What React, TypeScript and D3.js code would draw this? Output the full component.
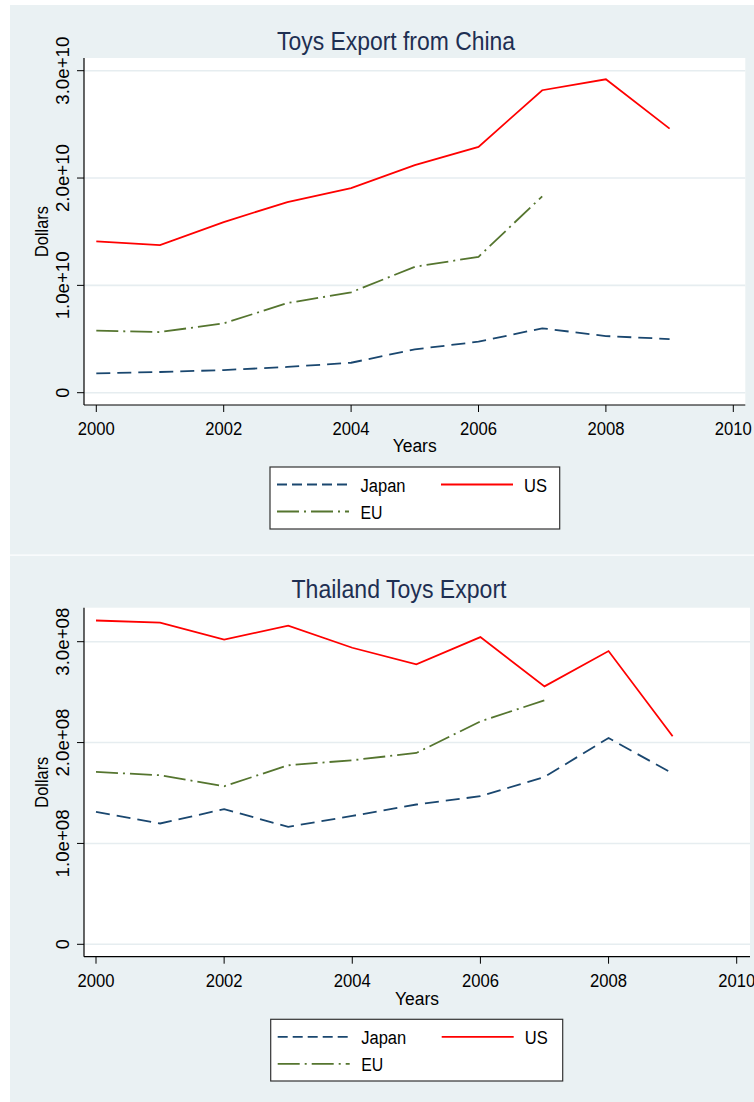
import React from "react";
import * as d3 from "d3";

const years = [2000, 2001, 2002, 2003, 2004, 2005, 2006, 2007, 2008, 2009];
const euYears = [2000, 2001, 2002, 2003, 2004, 2005, 2006, 2007];

const chinaJapan = [0.18e10, 0.193e10, 0.211e10, 0.24e10, 0.279e10, 0.404e10, 0.475e10, 0.6e10, 0.528e10, 0.5e10];
const chinaUS = [1.41e10, 1.375e10, 1.59e10, 1.776e10, 1.906e10, 2.12e10, 2.29e10, 2.818e10, 2.92e10, 2.46e10];
const chinaEU = [0.578e10, 0.565e10, 0.646e10, 0.835e10, 0.935e10, 1.173e10, 1.266e10, 1.83e10];

const thaiJapan = [1.313e8, 1.198e8, 1.34e8, 1.164e8, 1.273e8, 1.386e8, 1.468e8, 1.659e8, 2.045e8, 1.693e8];
const thaiUS = [3.21e8, 3.19e8, 3.02e8, 3.16e8, 2.94e8, 2.775e8, 3.046e8, 2.557e8, 2.907e8, 2.062e8];
const thaiEU = [1.709e8, 1.676e8, 1.567e8, 1.775e8, 1.825e8, 1.897e8, 2.21e8, 2.419e8];

const xTicks = [2000, 2002, 2004, 2006, 2008, 2010];
const chinaYTicks = [0, 1e10, 2e10, 3e10];
const chinaYLabels = ["0", "1.0e+10", "2.0e+10", "3.0e+10"];
const thaiYTicks = [0, 1e8, 2e8, 3e8];
const thaiYLabels = ["0", "1.0e+08", "2.0e+08", "3.0e+08"];

const BG = "#eaf1f3";
const GRID = "#e6edf0";
const FONT = "'Liberation Sans', Arial, sans-serif";
const TITLE_COLOR = "#1e2f52";
const C_JAPAN = "#1a476f";
const C_US = "#ff0000";
const C_EU = "#55752f";
const DASH_JAPAN = "14 7";
const DASH_EU = "22 5 2 5";

type PanelProps = {
  top: number;
  height: number;
  title: string;
  titleWidth: number;
  titleY: number;
  titleX: number;
  plot: { x0: number; x1: number; y0: number; y1: number };
  xRange: [number, number];
  yRange: [number, number];
  yMax: number;
  yTicks: number[];
  yLabels: string[];
  japan: number[];
  us: number[];
  eu: number[];
  tickLabelY: number;
  xTitleY: number;
  legend: { x: number; y: number; w: number; h: number };
};

function Panel(p: PanelProps) {
  const x = d3.scaleLinear().domain([2000, 2010]).range(p.xRange);
  const y = d3.scaleLinear().domain([0, p.yMax]).range(p.yRange);
  const line = d3
    .line<[number, number]>()
    .x((d) => x(d[0]))
    .y((d) => y(d[1]));
  const pts = (xs: number[], vs: number[]) => xs.map((yr, i) => [yr, vs[i]] as [number, number]);
  const { x0, x1, y0, y1 } = p.plot;
  const yMid = (y0 + y1) / 2;
  const xMid = (x0 + x1) / 2;
  const L = p.legend;
  const row1 = L.y + 17.5;
  const row2 = L.y + 44.5;
  return (
    <g>
      <rect x={10} y={p.top} width={744} height={p.height} fill={BG} />
      <text
        x={p.titleX}
        y={p.titleY}
        fontFamily={FONT}
        fontSize={26}
        fill={TITLE_COLOR}
        textAnchor="middle"
        textLength={p.titleWidth}
        lengthAdjust="spacingAndGlyphs"
      >
        {p.title}
      </text>
      <rect x={x0} y={y0} width={x1 - x0} height={y1 - y0} fill="#ffffff" />
      {p.yTicks.map((t) => (
        <line key={"g" + t} x1={x0} x2={x1} y1={y(t)} y2={y(t)} stroke={GRID} strokeWidth={1.6} />
      ))}
      <line x1={x0} x2={x0} y1={y0} y2={y1} stroke="#000" strokeWidth={1.2} />
      <line x1={x0} x2={x1} y1={y1} y2={y1} stroke="#000" strokeWidth={1.2} />
      {p.yTicks.map((t, i) => (
        <g key={"yt" + t}>
          <line x1={x0 - 7} x2={x0} y1={y(t)} y2={y(t)} stroke="#000" strokeWidth={1} />
          <text
            transform={`translate(69,${y(t)}) rotate(-90)`}
            fontFamily={FONT}
            fontSize={18}
            textAnchor="middle"
            fill="#000"
            {...(p.yLabels[i].length > 1 ? { textLength: 68, lengthAdjust: "spacingAndGlyphs" } : {})}
          >
            {p.yLabels[i]}
          </text>
        </g>
      ))}
      {xTicks.map((t) => (
        <g key={"xt" + t}>
          <line x1={x(t)} x2={x(t)} y1={y1} y2={y1 + 7} stroke="#000" strokeWidth={1} />
          <text
            x={x(t)}
            y={p.tickLabelY}
            fontFamily={FONT}
            fontSize={18}
            textAnchor="middle"
            fill="#000"
            textLength={37}
            lengthAdjust="spacingAndGlyphs"
          >
            {t}
          </text>
        </g>
      ))}
      <text
        transform={`translate(48,${yMid}) rotate(-90)`}
        fontFamily={FONT}
        fontSize={18}
        textAnchor="middle"
        fill="#000"
        textLength={51}
        lengthAdjust="spacingAndGlyphs"
      >
        Dollars
      </text>
      <text
        x={xMid}
        y={p.xTitleY}
        fontFamily={FONT}
        fontSize={18}
        textAnchor="middle"
        fill="#000"
        textLength={44}
        lengthAdjust="spacingAndGlyphs"
      >
        Years
      </text>
      <path d={line(pts(years, p.japan)) || ""} fill="none" stroke={C_JAPAN} strokeWidth={1.8} strokeDasharray={DASH_JAPAN} />
      <path d={line(pts(years, p.us)) || ""} fill="none" stroke={C_US} strokeWidth={1.8} />
      <path d={line(pts(euYears, p.eu)) || ""} fill="none" stroke={C_EU} strokeWidth={1.8} strokeDasharray={DASH_EU} />
      <rect x={L.x} y={L.y} width={L.w} height={L.h} fill="#fff" stroke="#333" strokeWidth={1.2} />
      <line x1={L.x + 7} x2={L.x + 79} y1={row1} y2={row1} stroke={C_JAPAN} strokeWidth={1.8} strokeDasharray="10 5" />
      <text x={L.x + 90.5} y={row1 + 7} fontFamily={FONT} fontSize={18} fill="#000" textLength={45} lengthAdjust="spacingAndGlyphs">
        Japan
      </text>
      <line x1={L.x + 171} x2={L.x + 243} y1={row1} y2={row1} stroke={C_US} strokeWidth={1.8} />
      <text x={L.x + 254} y={row1 + 7} fontFamily={FONT} fontSize={18} fill="#000" textLength={23} lengthAdjust="spacingAndGlyphs">
        US
      </text>
      <line x1={L.x + 7} x2={L.x + 79} y1={row2} y2={row2} stroke={C_EU} strokeWidth={1.8} strokeDasharray={DASH_EU} />
      <text x={L.x + 90.5} y={row2 + 7} fontFamily={FONT} fontSize={18} fill="#000" textLength={22} lengthAdjust="spacingAndGlyphs">
        EU
      </text>
    </g>
  );
}

export default function App() {
  return (
    <svg
      width={754}
      height={1102}
      viewBox="0 0 754 1102"
      style={{ position: "absolute", left: 0, top: 0, display: "block" }}
    >
      <rect x={0} y={0} width={754} height={1102} fill="#ffffff" />
      <Panel
        top={5}
        height={549.5}
        title="Toys Export from China"
        titleWidth={238}
        titleX={396}
        titleY={50}
        plot={{ x0: 84, x1: 745.3, y0: 58, y1: 405 }}
        xRange={[96.3, 733.3]}
        yRange={[392.7, 70.7]}
        yMax={3e10}
        yTicks={chinaYTicks}
        yLabels={chinaYLabels}
        japan={chinaJapan}
        us={chinaUS}
        eu={chinaEU}
        tickLabelY={435}
        xTitleY={452}
        legend={{ x: 270, y: 467, w: 289.7, h: 62 }}
      />
      <Panel
        top={555.7}
        height={546.3}
        title="Thailand Toys Export"
        titleWidth={215}
        titleX={399}
        titleY={598.3}
        plot={{ x0: 84, x1: 750, y0: 607.7, y1: 956.7 }}
        xRange={[96, 736.7]}
        yRange={[944.3, 641.7]}
        yMax={3e8}
        yTicks={thaiYTicks}
        yLabels={thaiYLabels}
        japan={thaiJapan}
        us={thaiUS}
        eu={thaiEU}
        tickLabelY={986.7}
        xTitleY={1005}
        legend={{ x: 270.7, y: 1019.3, w: 292, h: 61.7 }}
      />
    </svg>
  );
}
